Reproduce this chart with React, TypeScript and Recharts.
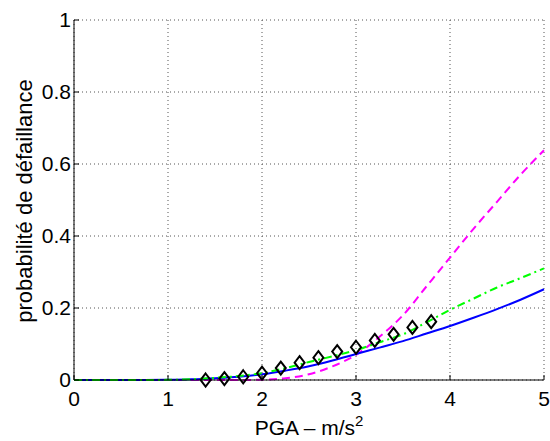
import {
  ComposedChart,
  Line,
  Scatter,
  XAxis,
  YAxis,
  CartesianGrid,
  Label,
} from 'recharts'

const pga = [0, 0.25, 0.5, 0.75, 1, 1.25, 1.5, 1.75, 2, 2.25, 2.5, 2.75, 3, 3.25, 3.5, 3.75, 4, 4.25, 4.5, 4.75, 5]
const blueCurve = [0, 0, 0, 0, 0.0005, 0.002, 0.005, 0.009, 0.016, 0.026, 0.038, 0.054, 0.072, 0.09, 0.108, 0.129, 0.15, 0.173, 0.197, 0.223, 0.252]
const greenCurve = [0, 0, 0, 0, 0.0005, 0.002, 0.006, 0.011, 0.019, 0.033, 0.05, 0.066, 0.083, 0.105, 0.127, 0.16, 0.195, 0.226, 0.257, 0.283, 0.31]
const magentaCurve = [0, 0, 0, 0, 0, 0, 0, 0, 0.001, 0.005, 0.016, 0.038, 0.07, 0.12, 0.18, 0.26, 0.34, 0.42, 0.495, 0.57, 0.638]

const markerPga = [1.4, 1.6, 1.8, 2.0, 2.2, 2.4, 2.6, 2.8, 3.0, 3.2, 3.4, 3.6, 3.8]
const markerProb = [0, 0.004, 0.009, 0.019, 0.033, 0.048, 0.062, 0.079, 0.091, 0.11, 0.127, 0.146, 0.162]

const xTicks = [0, 1, 2, 3, 4, 5]
const yTicks = [0, 0.2, 0.4, 0.6, 0.8, 1]

const FONT = 'Liberation Sans, Arial, Helvetica, sans-serif'

const rows = pga.map((x, i) => ({
  x,
  blue: blueCurve[i],
  green: greenCurve[i],
  magenta: magentaCurve[i],
}))

const markers = markerPga.map((x, i) => ({ x, y: markerProb[i] }))

// eslint-disable-next-line @typescript-eslint/no-explicit-any
function Diamond(props: any) {
  const { cx, cy } = props
  if (cx == null || cy == null) return null
  return (
    <polygon
      points={`${cx},${cy - 6.5} ${cx + 5},${cy} ${cx},${cy + 6.5} ${cx - 5},${cy}`}
      fill="none"
      stroke="#000"
      strokeWidth={2}
    />
  )
}

function XTitle() {
  return (
    <text x={309} y={435} textAnchor="middle" fontFamily={FONT} fontSize={21} fill="#000">
      PGA – m/s
      <tspan fontSize={15} dy={-9}>2</tspan>
    </text>
  )
}

function YTitle() {
  return (
    <text
      x={32}
      y={201}
      transform="rotate(-90 32 201)"
      textAnchor="middle"
      fontFamily={FONT}
      fontSize={22}
      fill="#000"
    >
      probabilité de défaillance
    </text>
  )
}

const tickStyle = { fontSize: 21, fill: '#000', fontFamily: FONT }

export default function App() {
  return (
    <div style={{ position: 'absolute', left: 0, top: 0, background: '#fff' }}>
      <ComposedChart
        width={550}
        height={441}
        data={rows}
        margin={{ top: 20, right: 6, bottom: 0, left: 0 }}
      >
        <CartesianGrid stroke="#555" strokeDasharray="1 3" />
        <XAxis
          dataKey="x"
          type="number"
          domain={[0, 5]}
          ticks={xTicks}
          height={61}
          tick={tickStyle}
          tickSize={-5}
          tickMargin={16}
          stroke="#000"
          interval={0}
        >
          <Label content={<XTitle />} />
        </XAxis>
        <XAxis
          xAxisId="top"
          orientation="top"
          type="number"
          domain={[0, 5]}
          ticks={xTicks}
          height={0}
          tick={false}
          tickSize={-5}
          stroke="#000"
        />
        <YAxis
          type="number"
          domain={[0, 1]}
          ticks={yTicks}
          width={74}
          tick={tickStyle}
          tickSize={-5}
          tickMargin={8}
          stroke="#000"
          interval={0}
        >
          <Label content={<YTitle />} />
        </YAxis>
        <YAxis
          yAxisId="right"
          orientation="right"
          type="number"
          domain={[0, 1]}
          ticks={yTicks}
          width={0}
          tick={false}
          tickSize={-5}
          stroke="#000"
        />
        <Line
          type="monotone"
          dataKey="magenta"
          stroke="#ff00ff"
          strokeWidth={2}
          strokeDasharray="8 5"
          dot={false}
          isAnimationActive={false}
        />
        <Line
          type="monotone"
          dataKey="blue"
          stroke="#0000ff"
          strokeWidth={2}
          dot={false}
          isAnimationActive={false}
        />
        <Line
          type="monotone"
          dataKey="green"
          stroke="#00ff00"
          strokeWidth={2}
          strokeDasharray="8 4 2 4"
          dot={false}
          isAnimationActive={false}
        />
        <Scatter
          data={markers}
          dataKey="y"
          shape={<Diamond />}
          isAnimationActive={false}
        />
      </ComposedChart>
    </div>
  )
}
